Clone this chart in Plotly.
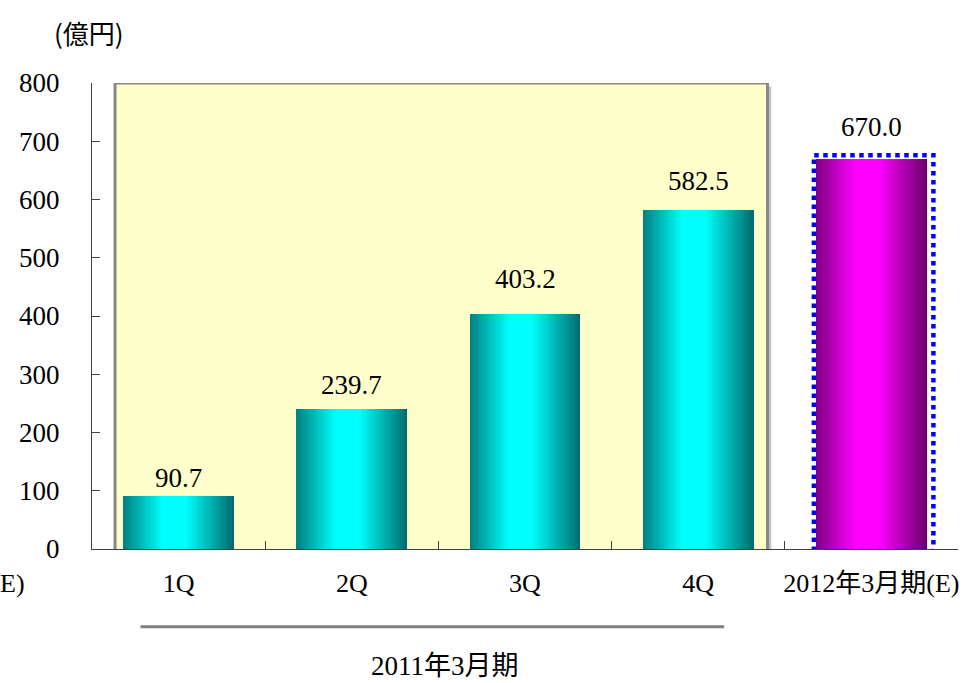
import plotly.graph_objects as go

# ---------------- data ----------------
categories = ["1Q", "2Q", "3Q", "4Q", "2012年3月期(E)"]
values = [90.7, 239.7, 403.2, 582.5, 670.0]
value_labels = ["90.7", "239.7", "403.2", "582.5", "670.0"]
y_ticks = [0, 100, 200, 300, 400, 500, 600, 700, 800]
period_label = "2011年3月期"
unit_label = "(億円)"
ghost_label = "E)"

# ---------------- styles ----------------
FONT = "Liberation Serif, 'Noto Sans CJK JP', serif"
dark_left = ["#008080"] * 4 + ["#800080"]
dark_right = ["#006a6a"] * 4 + ["#6a006a"]
bright = ["#00FFFF"] * 4 + ["#FF00FF"]
BAR_W = 0.64
PEAK = 0.45
N_STRIPS = 48
LABEL_SHIFTS = [1, 7, 18, 12, 15]  # pixel gap of each value label above its bar


def hex2rgb(h):
    h = h.lstrip("#")
    return tuple(int(h[i:i + 2], 16) for i in (0, 2, 4))


def lerp(c1, c2, s):
    a, b = hex2rgb(c1), hex2rgb(c2)
    return "rgb(%d,%d,%d)" % tuple(round(a[i] + (b[i] - a[i]) * s) for i in range(3))


fig = go.Figure()

# gradient bars, drawn as thin vertical strips of each bar
step = BAR_W / N_STRIPS
for j in range(N_STRIPS):
    pos = (j + 0.5) / N_STRIPS
    if pos < PEAK:
        t = pos / PEAK
        darks = dark_left
    else:
        t = (1 - pos) / (1 - PEAK)
        darks = dark_right
    s = min(1.0, t / 0.8)
    colors = [lerp(darks[i], bright[i], s) for i in range(len(categories))]
    w = step * (1.6 if j < N_STRIPS - 1 else 1.0)
    fig.add_trace(go.Bar(
        x=categories, y=values,
        offset=-BAR_W / 2 + j * step, width=w,
        marker=dict(color=colors, line=dict(width=0)),
        hoverinfo="skip", showlegend=False,
    ))

shapes = []
n_hist = 4
# shadow + yellow highlight box for 2011 quarters
shapes.append(dict(type="rect", xref="x", yref="y", layer="below",
                   x0=-0.367 + 0.022, x1=(n_hist - 1) + 0.40 + 0.022, y0=-10, y1=794,
                   fillcolor="#c4c4c4", line=dict(width=0)))
shapes.append(dict(type="rect", xref="x", yref="y", layer="below",
                   x0=-0.367, x1=(n_hist - 1) + 0.40, y0=-5, y1=y_ticks[-1],
                   fillcolor="#FFFFCC", line=dict(color="#888888", width=3)))
# dotted border round the forecast bar
fi = len(categories) - 1
shapes.append(dict(type="rect", xref="x", yref="y", layer="above",
                   x0=fi - BAR_W / 2 - 0.012, x1=fi + BAR_W / 2 + 0.038,
                   y0=-3.5, y1=values[fi] + 6,
                   line=dict(color="#0000FF", width=4.5, dash="dot"),
                   fillcolor="rgba(0,0,0,0)"))
# grey bracket line under quarter labels
shapes.append(dict(type="line", xref="x", yref="paper",
                   x0=-0.22, x1=(n_hist - 1) + 0.15, y0=-0.167, y1=-0.167,
                   line=dict(color="#808080", width=3)))

annotations = [
    dict(text=unit_label, xref="paper", yref="paper", x=-0.003, y=1.109,
         xanchor="center", yanchor="middle", showarrow=False,
         font=dict(family="Noto Sans CJK JP", size=26, color="black")),
    dict(text=period_label, xref="x", yref="paper", x=(n_hist - 1) / 2 + 0.04, y=-0.252,
         xanchor="center", yanchor="middle", showarrow=False,
         font=dict(family=FONT, size=27, color="black")),
    dict(text=ghost_label, xref="paper", yref="paper", x=-0.1085, y=-0.073,
         xanchor="left", yanchor="middle", showarrow=False,
         font=dict(family=FONT, size=26, color="black")),
]
# value labels above bars
for c, v, lab, sh in zip(categories, values, value_labels, LABEL_SHIFTS):
    annotations.append(dict(text=lab, xref="x", yref="y", x=c, y=v,
                            xanchor="center", yanchor="bottom", yshift=sh,
                            showarrow=False,
                            font=dict(family=FONT, size=27, color="black")))

fig.update_layout(
    width=969, height=683,
    margin=dict(l=92, r=11, t=83, b=134, pad=0),
    paper_bgcolor="white", plot_bgcolor="white",
    barmode="overlay", bargap=0,
    shapes=shapes, annotations=annotations,
    font=dict(family=FONT, size=27, color="black"),
    xaxis=dict(type="category", range=[-0.5, len(categories) - 0.5],
               showline=True, linecolor="#404040", linewidth=1,
               ticks="inside", tickson="boundaries", ticklen=8, tickcolor="#404040",
               showgrid=False, zeroline=False, ticklabelstandoff=11,
               tickangle=0, automargin=False,
               tickfont=dict(family=FONT, size=26, color="black")),
    yaxis=dict(range=[y_ticks[0], y_ticks[-1]], tickvals=y_ticks,
               showline=True, linecolor="#404040", linewidth=1,
               ticks="inside", ticklen=8, tickcolor="#404040",
               showgrid=False, zeroline=False, ticklabelstandoff=26,
               automargin=False,
               tickfont=dict(family=FONT, size=27, color="black")),
)

fig.write_html("out.html")
